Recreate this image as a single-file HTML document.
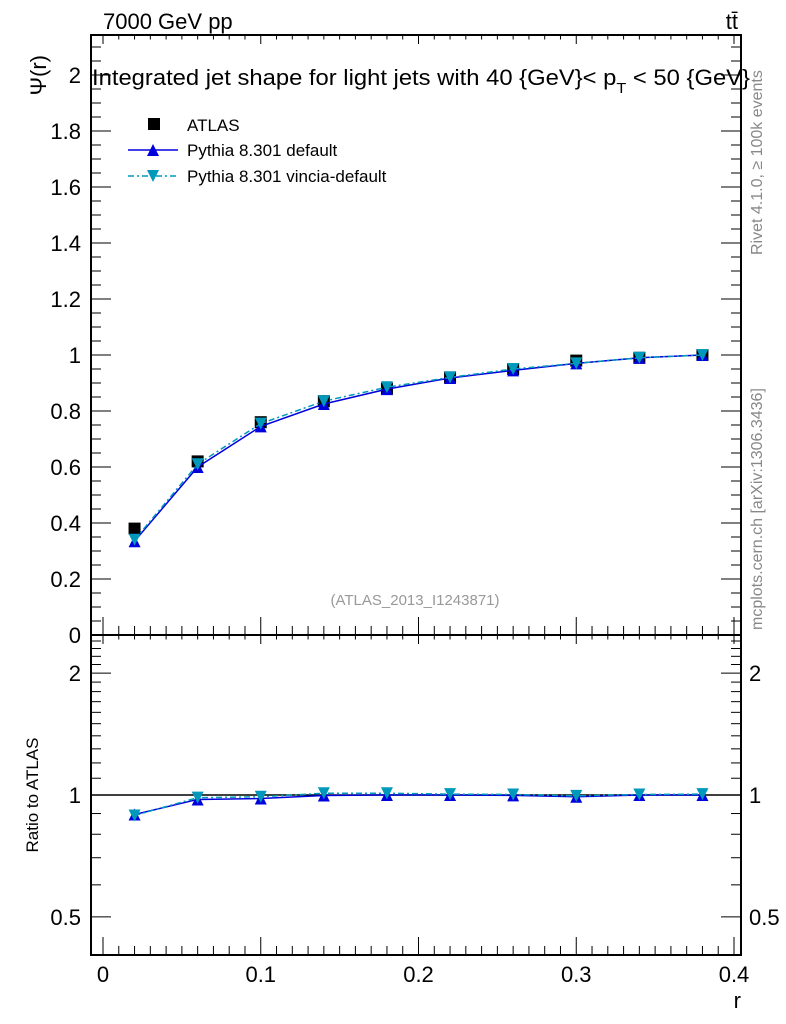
<!DOCTYPE html>
<html><head><meta charset="utf-8"><style>
body{margin:0;background:#fff}
svg{display:block;font-family:"Liberation Sans",sans-serif}
</style></head><body>
<svg id="c" width="786" height="1024" xmlns="http://www.w3.org/2000/svg"></svg>
<script>
const categories=[0.02,0.06,0.10,0.14,0.18,0.22,0.26,0.30,0.34,0.38];
const atlasValues=[0.38,0.62,0.76,0.835,0.88,0.92,0.95,0.98,0.99,1.0];
const defaultValues=[0.335,0.60,0.745,0.825,0.878,0.918,0.945,0.97,0.99,1.0];
const vinciaValues=[0.34,0.61,0.755,0.835,0.885,0.92,0.95,0.97,0.99,1.0];
const defaultRatio=[0.895,0.975,0.98,0.997,1.0,1.0,0.998,0.99,1.0,1.0];
const vinciaRatio=[0.89,0.985,0.99,1.01,1.01,1.005,1.003,0.995,1.003,1.005];
const xTicks=[0,0.1,0.2,0.3,0.4];
const yTicks=[0.2,0.4,0.6,0.8,1,1.2,1.4,1.6,1.8,2];
const ratioTicks=[0.5,1,2];

const NS="http://www.w3.org/2000/svg";
const svg=document.getElementById('c');
const L=91,R=741,T=35,MB=635,RB=955;
const xs=v=>103+v*(734-103)/0.4;
const ys=v=>635-v*280;
const rs=v=>795-Math.log10(v)*405;
function el(t,a,p){const e=document.createElementNS(NS,t);for(const k in a)e.setAttribute(k,a[k]);(p||svg).appendChild(e);return e;}
function tx(x,y,s,o){const e=el('text',Object.assign({x:x,y:y},o||{}));e.textContent=s;return e;}

let f1=el('rect',{x:L,y:T,width:R-L,height:MB-T,fill:'none',stroke:'#000','stroke-width':2});


let f2=el('rect',{x:L,y:MB,width:R-L,height:RB-MB,fill:'none',stroke:'#000','stroke-width':2});



for(let v=0;v<=0.4001;v+=0.01){
  const x=xs(v);const major=Math.abs(v*10-Math.round(v*10))<1e-6;
  const len=major?18:9;
  el('line',{x1:x,y1:MB,x2:x,y2:MB-len,stroke:'#000'});
  el('line',{x1:x,y1:T,x2:x,y2:T+len/2,stroke:'#000'});
  el('line',{x1:x,y1:RB,x2:x,y2:RB-len,stroke:'#000'});
  el('line',{x1:x,y1:MB,x2:x,y2:MB+len/2,stroke:'#000'});
}
xTicks.forEach(v=>{const t=tx(xs(v),982,String(v),{'font-size':22,'text-anchor':'middle'});
});
let xl=tx(741,1008,'r',{'font-size':22,'text-anchor':'end'});


for(let i=0;i<=42;i++){const v=i*0.05;const y=ys(v);if(y<T)continue;const major=i%4==0;const len=major?20:10;
  el('line',{x1:L,y1:y,x2:L+len,y2:y,stroke:'#000'});el('line',{x1:R,y1:y,x2:R-len,y2:y,stroke:'#000'});}
yTicks.forEach(v=>{const t=tx(81,ys(v)+8,String(v),{'font-size':22,'text-anchor':'end'});
});
tx(81,643,'0',{'font-size':22,'text-anchor':'end'});
let yt=tx(46,55,'Ψ(r)',{'font-size':22,'text-anchor':'end',transform:'rotate(-90 46 55)'});


const rMinor=[0.5,0.6,0.7,0.8,0.9,1,1.1,1.2,1.3,1.4,1.5,1.6,1.7,1.8,1.9,2,2.1,2.2,2.3,2.4];
rMinor.forEach(v=>{const y=rs(v);const major=ratioTicks.includes(v);const len=major?20:10;
  el('line',{x1:L,y1:y,x2:L+len,y2:y,stroke:'#000'});el('line',{x1:R,y1:y,x2:R-len,y2:y,stroke:'#000'});});
ratioTicks.forEach(v=>{const t=tx(81,rs(v)+8,String(v),{'font-size':22,'text-anchor':'end'});

const t2=tx(749,rs(v)+8,String(v),{'font-size':22});});
let ry=tx(38,795,'Ratio to ATLAS',{'font-size':17,'text-anchor':'middle',transform:'rotate(-90 38 795)'});

el('line',{x1:L,y1:rs(1),x2:R,y2:rs(1),stroke:'#000','stroke-width':1.5});

let h1=tx(103,29,'7000 GeV pp',{'font-size':22});
let h2=tx(738,29,'tt̄',{'font-size':22,'text-anchor':'end'});
let ti=el('text',{x:92,y:85,'font-size':22,textLength:658,lengthAdjust:'spacingAndGlyphs'});
ti.innerHTML='Integrated jet shape for light jets with 40 {GeV}&lt; p<tspan dy="8" font-size="15">T</tspan><tspan dy="-8"> &lt; 50 {GeV}</tspan>';
let ana=tx(415,605,'(ATLAS_2013_I1243871)',{'font-size':15,fill:'#999','text-anchor':'middle'});

let rv=tx(762,255,'Rivet 4.1.0, ≥ 100k events',{'font-size':16,fill:'#888',transform:'rotate(-90 762 255)'});

let mc=tx(762,630,'mcplots.cern.ch [arXiv:1306.3436]',{'font-size':16,fill:'#888',transform:'rotate(-90 762 630)'});


function tri(x,y,down,c){const s=6;const p=down?`${x-s},${y-s} ${x+s},${y-s} ${x},${y+s}`:`${x-s},${y+s} ${x+s},${y+s} ${x},${y-s}`;return el('polygon',{points:p,fill:c});}
function series(vals,yf,color,dash,down,name){
  const pts=categories.map((c,i)=>xs(c)+','+yf(vals[i])).join(' ');
  const pl=el('polyline',{points:pts,fill:'none',stroke:color,'stroke-width':1.5,'stroke-dasharray':dash||''});
  
  categories.forEach((c,i)=>{const m=tri(xs(c),yf(vals[i]),down,color);
    });
}
categories.forEach((c,i)=>{const r=el('rect',{x:xs(c)-6,y:ys(atlasValues[i])-6,width:12,height:12,fill:'#000'});
  });
series(defaultValues,ys,'#0000dd','',false,'pythia-default');
series(vinciaValues,ys,'#0099bb','6,3,2,3',true,'pythia-vincia');
series(defaultRatio,rs,'#0000dd','',false,'ratio-pythia-default');
series(vinciaRatio,rs,'#0099bb','6,3,2,3',true,'ratio-pythia-vincia');

const lg=el('g',{});
el('rect',{x:148,y:118,width:12,height:12,fill:'#000'},lg);
tx(187,131,'ATLAS',{'font-size':17},lg);
el('line',{x1:128,y1:150,x2:178,y2:150,stroke:'#0000dd','stroke-width':1.5},lg);
lg.appendChild(tri(153,150,false,'#0000dd'));
tx(187,156,'Pythia 8.301 default',{'font-size':17},lg);
el('line',{x1:128,y1:176,x2:178,y2:176,stroke:'#0099bb','stroke-width':1.5,'stroke-dasharray':'6,3,2,3'},lg);
lg.appendChild(tri(153,176,true,'#0099bb'));
tx(187,182,'Pythia 8.301 vincia-default',{'font-size':17},lg);
</script>
</body></html>
